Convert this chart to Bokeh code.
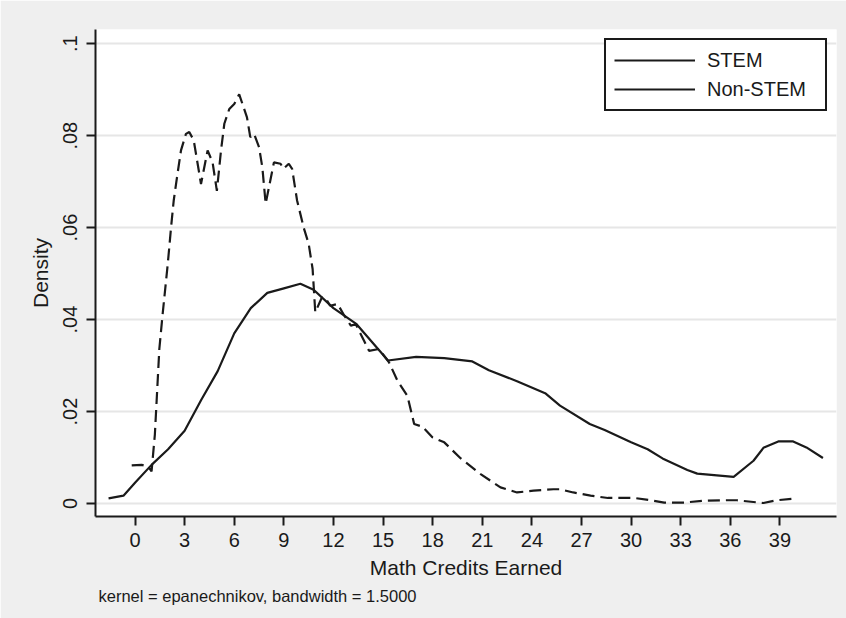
from bokeh.plotting import figure
from bokeh.models import FixedTicker, Range1d, Legend, LegendItem, Title
from bokeh.embed import file_html
from bokeh.resources import INLINE

# ---- data ----
stem_x = [-1.6, -0.7, 0, 1, 2, 3, 4, 5, 6, 7, 8, 9, 10, 10.8, 12, 13.4,
          15.3, 17, 18.7, 20.4, 21.4, 23.1, 24.8, 25.7, 27.5, 28.4, 30, 31,
          31.9, 33.4, 34, 36.2, 37.4, 38, 38.9, 39.8, 40.6, 41.6]
stem_y = [.0011, .0017, .0045, .0084, .0118, .0158, .0225, .0288, .0370,
          .0425, .0458, .0468, .0478, .0465, .0425, .0390, .0311, .0319,
          .0316, .0309, .0290, .0266, .0240, .0213, .0173, .0160, .0133,
          .0118, .0098, .0073, .0065, .0058, .0093, .0121, .0135, .0135,
          .0122, .0099]

nonstem_x = [-0.2, 0.4, 0.8, 1.0, 1.2, 1.47, 1.67, 1.98, 2.18, 2.34, 2.54,
             2.78, 3.08, 3.28, 3.55, 3.99, 4.39, 4.69, 4.95, 5.2, 5.4, 5.7,
             6.0, 6.3, 6.77, 6.97, 7.2, 7.5, 7.7, 7.9, 8.1, 8.4, 8.8, 8.98,
             9.3, 9.5, 9.8, 10.2, 10.5, 10.74, 10.9, 11.3, 11.5, 11.8,
             12.25, 12.65, 13.05, 13.35, 13.85, 14.15, 14.75, 15.36, 15.87,
             16.47, 16.88, 17.38, 17.98, 18.7, 19.7, 20.9, 22.1, 23.1, 24.1,
             25.3, 25.7, 26.5, 27.55, 28.6, 30.2, 31.2, 32.0, 33.2, 34.4,
             35.4, 36.4, 38.0, 38.8, 40.0]
nonstem_y = [.0083, .0084, .0080, .0070, .0150, .0336, .0412, .0521, .0601,
             .0659, .0710, .0768, .0804, .0808, .0790, .0695, .0768, .0742,
             .0680, .0768, .0826, .0858, .0869, .0890, .0840, .0797, .0804,
             .0775, .0731, .0652, .0688, .0742, .0739, .0728, .0739, .0728,
             .0659, .0600, .0565, .0510, .0416, .0448, .0448, .0430, .0434,
             .0409, .0387, .0390, .0354, .0332, .0336, .0307, .0267, .0234,
             .0173, .0167, .0144, .0133, .0098, .0064, .0035, .0024, .0028,
             .0031, .0031, .0024, .0017, .0012, .0012, .0007, .0002, .0002,
             .0006, .0007, .0007, .0001, .0007, .0011]

x_ticks = list(range(0, 40, 3))
y_ticks = [0, 0.02, 0.04, 0.06, 0.08, 0.1]
y_tick_labels = {0: "0", 0.02: ".02", 0.04: ".04", 0.06: ".06",
                 0.08: ".08", 0.1: ".1"}
series_names = ["STEM", "Non-STEM"]
note_text = "kernel = epanechnikov, bandwidth = 1.5000"
x_title = "Math Credits Earned"
y_title = "Density"

FONT = "Liberation Sans"
BG = "#efefef"
INK = "#1a1a1a"

p = figure(width=846, height=618, output_backend="svg", toolbar_location=None,
           x_range=Range1d(-2.39, 42.42), y_range=Range1d(-0.00283, 0.1031),
           min_border_left=95, min_border_right=10, min_border_top=29,
           min_border_bottom=102)
p.background_fill_color = "white"
p.border_fill_color = BG
p.outline_line_color = None

# axes
for ax in (p.xaxis[0], p.yaxis[0]):
    ax.axis_line_color = INK
    ax.axis_line_width = 2
    ax.major_tick_line_color = INK
    ax.major_tick_line_width = 2
    ax.major_tick_out = 9
    ax.major_tick_in = 0
    ax.minor_tick_line_color = None
    ax.major_label_text_font = FONT
    ax.major_label_text_font_size = "20px"
    ax.major_label_text_color = INK
    ax.axis_label_text_font = FONT
    ax.axis_label_text_font_size = "21px"
    ax.axis_label_text_font_style = "normal"
    ax.axis_label_text_color = INK

p.xaxis.ticker = FixedTicker(ticks=x_ticks)
p.yaxis.ticker = FixedTicker(ticks=y_ticks)
p.yaxis.major_label_overrides = y_tick_labels
p.yaxis.major_label_orientation = "vertical"
p.xaxis.axis_label = x_title
p.yaxis.axis_label = y_title
p.xaxis.major_label_standoff = 7
p.yaxis.major_label_standoff = 9
p.xaxis.axis_label_standoff = 6
p.yaxis.axis_label_standoff = 9

p.xgrid.grid_line_color = None
p.ygrid.ticker = FixedTicker(ticks=y_ticks)
p.ygrid.grid_line_color = "#e6e6e6"
p.ygrid.grid_line_width = 2

# curves
p.line(stem_x, stem_y, line_color=INK, line_width=2.2)
p.line(nonstem_x, nonstem_y, line_color=INK, line_width=2.2, line_dash="12 6")

# legend proxies (reference shows solid samples for both entries);
# a single-point line draws nothing on the plot itself
r1 = p.line(stem_x[:1], stem_y[:1], line_color=INK, line_width=2.2)
r2 = p.line(nonstem_x[:1], nonstem_y[:1], line_color=INK, line_width=2.2)
legend = Legend(items=[LegendItem(label=series_names[0], renderers=[r1]),
                       LegendItem(label=series_names[1], renderers=[r2])],
                location="top_right")
legend.margin = 9
legend.padding = 8
legend.spacing = 5
legend.glyph_width = 81
legend.glyph_height = 24
legend.label_height = 24
legend.label_width = 110
legend.label_standoff = 12
legend.label_text_font = FONT
legend.label_text_font_size = "20px"
legend.label_text_color = INK
legend.border_line_color = INK
legend.border_line_alpha = 1
legend.border_line_width = 2
legend.background_fill_color = "white"
legend.background_fill_alpha = 1
p.add_layout(legend, "center")

# note below the chart
note = Title(text=note_text, align="left", offset=3, text_font=FONT,
             text_font_size="16.5px", text_font_style="normal",
             text_color=INK, standoff=7)
p.add_layout(note, "below")

open("out.html", "w").write(file_html(p, INLINE))
